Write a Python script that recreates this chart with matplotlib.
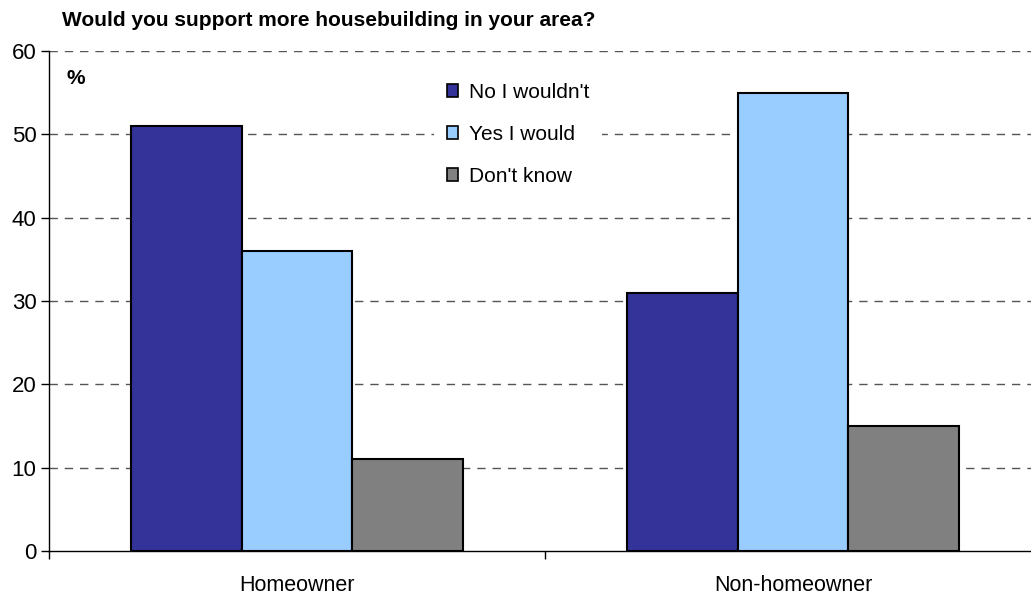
import matplotlib
matplotlib.use("Agg")
import matplotlib.pyplot as plt
import numpy as np

categories = ["Homeowner", "Non-homeowner"]
series_names = ["No I wouldn't", "Yes I would", "Don't know"]
no_wouldnt = [51, 31]
yes_would = [36, 55]
dont_know = [11, 15]
colors = ["#333399", "#99CCFF", "#808080"]
yticks = [0, 10, 20, 30, 40, 50, 60]

plt.rcParams['font.family'] = ['Liberation Sans', 'DejaVu Sans']

fig = plt.figure(figsize=(10.31, 5.96), dpi=100)
# axes runs a little past the right edge, like the original
ax = fig.add_axes([49 / 1031, 45 / 596, 992 / 1031, 500 / 596])

x = np.arange(len(categories))
w = 0.223
for i, (vals, name) in enumerate(zip([no_wouldnt, yes_would, dont_know], series_names)):
    ax.bar(x + (i - 1) * w, vals, width=w, color=colors[i], edgecolor="black",
           linewidth=1.5, label=name, zorder=3)

ax.set_xlim(-0.5, 1.5)
ax.set_ylim(0, 60)
ax.set_yticks(yticks)
ax.set_yticklabels([str(t) for t in yticks], fontsize=16)
ax.set_xticks([-0.5, 0.5, 1.5])
ax.set_xticklabels([])
ax.set_xticks(x, minor=True)
ax.set_xticklabels(categories, minor=True, fontsize=15.5)
ax.tick_params(axis="x", which="minor", length=0, pad=17)
ax.tick_params(axis="x", which="major", length=6, direction="out", width=1)
ax.tick_params(axis="y", length=6, direction="out", width=1, pad=3)

for t in yticks[1:]:
    ax.axhline(t, color="#555555", linestyle=(0, (6, 5)), linewidth=1, zorder=1)

for s in ["top", "right"]:
    ax.spines[s].set_visible(False)
ax.spines["left"].set_linewidth(1)
ax.spines["bottom"].set_linewidth(1)

leg = ax.legend(loc="upper left", bbox_to_anchor=(0.378, 0.982), frameon=True,
                fontsize=15, handlelength=0.55, handleheight=0.55,
                handletextpad=0.5, labelspacing=1.1, borderpad=0.6)
leg.get_frame().set_edgecolor("none")
leg.get_frame().set_facecolor("white")
leg.get_frame().set_alpha(1)
leg.set_zorder(5)
for h in leg.legend_handles:
    h.set_linewidth(1.2)

ax.text(0.018, 0.945, "%", transform=ax.transAxes, fontsize=15, fontweight="bold",
        va="center", ha="left")
fig.text(62 / 1031, 1 - 20 / 596, "Would you support more housebuilding in your area?",
         fontsize=15, fontweight="bold", va="center", ha="left")

fig.savefig("out.png", dpi=100)
